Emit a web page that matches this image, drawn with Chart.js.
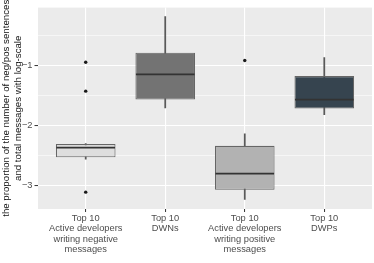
<!DOCTYPE html>
<html>
<head>
<meta charset="utf-8">
<script src="https://cdn.jsdelivr.net/npm/chart.js@4/dist/chart.umd.min.js"></script>
<style>
  html, body { margin: 0; padding: 0; background: #fff; }
  #wrap { width: 374px; height: 263px; }
</style>
</head>
<body>
<div id="wrap"><canvas id="chart" width="374" height="263"></canvas></div>
<script>
// values (log-scale proportions)
const categories = [
  ['Top 10', 'Active developers', 'writing negative', 'messages'],
  ['Top 10', 'DWNs'],
  ['Top 10', 'Active developers', 'writing positive', 'messages'],
  ['Top 10', 'DWPs']
];
const whiskerLow = [-2.56, -1.71, -3.23, -1.82];
const q1 = [-2.53, -1.57, -3.07, -1.72];
const medians = [-2.37, -1.15, -2.80, -1.57];
const q3 = [-2.31, -0.79, -2.34, -1.18];
const whiskerHigh = [-2.30, -0.19, -2.14, -0.87];
const outliers = [[-0.95, -1.43, -3.11], [], [-0.92], []];
const boxColors = ['#dedede', '#737373', '#b2b2b2', '#36444f'];
const yTitle = ['the proportion of the number of neg/pos sentences', 'and total messages with log-scale'];

const FONT = '"Liberation Sans", Arial, sans-serif';
const idx = categories.map((c, i) => i);

const panelBg = {
  id: 'panelBg',
  beforeDraw(chart) {
    const { ctx, chartArea: a } = chart;
    ctx.save();
    ctx.fillStyle = '#fff';
    ctx.fillRect(0, 0, chart.width, chart.height);
    ctx.fillStyle = '#ebebeb';
    ctx.fillRect(a.left, a.top, a.right - a.left, a.bottom - a.top);
    ctx.restore();
  }
};

const isMajor = v => Math.abs(v - Math.round(v)) < 1e-6;

new Chart(document.getElementById('chart'), {
  type: 'bar',
  data: {
    datasets: [
      {
        label: 'whiskers',
        data: idx.map(i => ({ x: i, y: [whiskerLow[i], whiskerHigh[i]] })),
        backgroundColor: '#595959',
        barThickness: 1.1,
        grouped: false,
        order: 3
      },
      {
        label: 'boxes',
        data: idx.map(i => ({ x: i, y: [q1[i], q3[i]] })),
        backgroundColor: boxColors,
        borderColor: '#666666',
        borderWidth: 1.1,
        borderSkipped: false,
        barPercentage: 0.75,
        categoryPercentage: 1,
        grouped: false,
        order: 2
      },
      {
        type: 'line',
        label: 'medians',
        data: idx.map(i => ({ x: i, y: medians[i] })),
        showLine: false,
        pointStyle: 'line',
        pointRadius: 29.3,
        pointHoverRadius: 29.3,
        pointBorderWidth: 1.8,
        pointBorderColor: '#333333',
        order: 1
      },
      {
        type: 'line',
        label: 'outliers',
        data: outliers.flatMap((list, i) => list.map(v => ({ x: i, y: v }))),
        showLine: false,
        pointRadius: 1.7,
        pointBorderWidth: 0,
        pointBackgroundColor: '#1a1a1a',
        order: 0
      }
    ]
  },
  options: {
    responsive: false,
    animation: false,
    devicePixelRatio: 1,
    layout: { autoPadding: false, padding: { top: 3, right: 2, left: 0, bottom: 0 } },
    plugins: {
      legend: { display: false },
      tooltip: { enabled: false }
    },
    scales: {
      x: {
        type: 'linear',
        min: -0.6,
        max: 3.6,
        offset: false,
        afterFit: s => { s.height = 54; },
        border: { display: false },
        grid: {
          offset: false,
          color: '#ffffff',
          lineWidth: 1.1,
          tickColor: '#333333',
          tickLength: 3,
          tickWidth: 1
        },
        ticks: {
          stepSize: 1,
          includeBounds: false,
          autoSkip: false,
          maxRotation: 0,
          padding: 1,
          color: '#4d4d4d',
          font: { family: FONT, size: 9.3, lineHeight: 1.13 },
          callback: v => categories[v] || ''
        }
      },
      y: {
        min: -3.39,
        max: -0.04,
        afterFit: s => { s.width = 38; },
        border: { display: false },
        grid: {
          color: '#ffffff',
          lineWidth: c => isMajor(c.tick.value) ? 1.1 : 0.55,
          tickColor: c => isMajor(c.tick.value) ? '#333333' : 'rgba(0,0,0,0)',
          tickLength: 3.5,
          tickWidth: 1
        },
        ticks: {
          stepSize: 0.5,
          includeBounds: false,
          autoSkip: false,
          padding: 2,
          color: '#4d4d4d',
          font: { family: FONT, size: 9.3 },
          callback: v => isMajor(v) ? '\u2212' + Math.abs(Math.round(v)) : ''
        },
        title: {
          display: true,
          text: yTitle,
          color: '#111111',
          padding: { top: 0.5, bottom: 0 },
          font: { family: FONT, size: 9.7, lineHeight: 1.25 }
        }
      }
    }
  },
  plugins: [panelBg]
});
</script>
</body>
</html>
